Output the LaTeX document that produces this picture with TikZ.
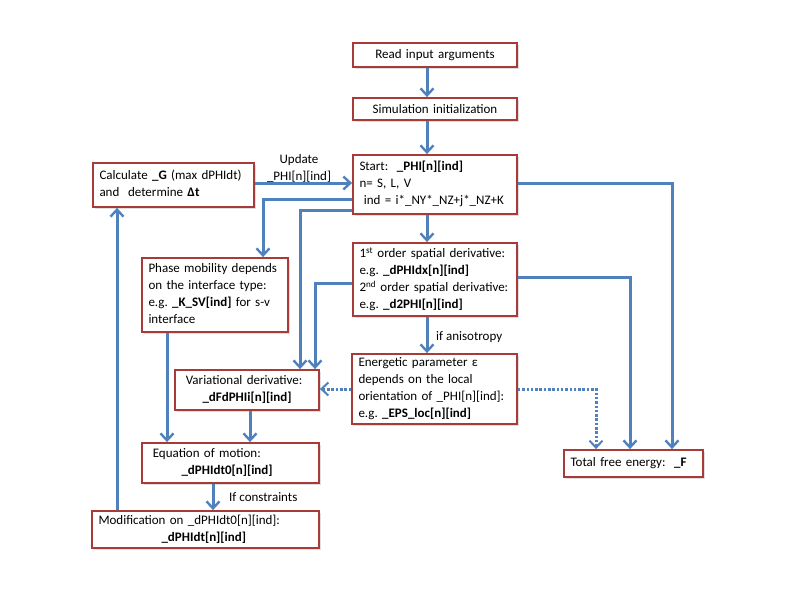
\documentclass[tikz,border=0pt]{standalone}
\usepackage{fontspec}
\setmainfont{Carlito}
\usetikzlibrary{arrows.meta,shadows}
\definecolor{boxred}{RGB}{168,58,56}
\definecolor{arrblue}{RGB}{79,129,189}
\newcommand{\fs}{\fontsize{13}{17}\selectfont\frenchspacing}
\newcommand{\tb}[1]{\begin{tabular}{@{}l@{}}#1\end{tabular}}
\begin{document}
\begin{tikzpicture}[x=1pt,y=-1pt,
  box/.style={draw=boxred, line width=1.8pt, fill=white, inner xsep=6.5pt, inner ysep=0pt,
    align=left, font=\fs, drop shadow={shadow xshift=1.5pt, shadow yshift=-1.5pt, opacity=0.25, fill=gray}},
  cbox/.style={box, align=center},
  conn/.style={draw=arrblue, line width=3pt, -{Straight Barb[length=7pt,width=13pt,line width=2.4pt]}},
  dconn/.style={conn, line width=3pt, dash pattern=on 2.5pt off 1.8pt, -{Straight Barb[length=7pt,width=13pt,line width=2pt]}},
  lbl/.style={font=\fs, align=center, inner sep=0pt}]
\useasboundingbox (0,0) rectangle (800,600);
% boxes
\node[cbox, minimum width=164, minimum height=24, text width=151] (read) at (435,55) {Read input arguments};
\node[cbox, minimum width=164, minimum height=22, text width=151] (sim) at (435,109) {Simulation initialization};
\node[box, minimum width=164, minimum height=59, text width=151] (start) at (435,184.5)
  {\tb{Start:\ \ \textbf{\_PHI[n][ind]}\\n= S, L, V\\\ ind = i*\_NY*\_NZ+j*\_NZ+K}};
\node[box, minimum width=161, minimum height=44, text width=148] (calc) at (173.5,185)
  {\tb{Calculate \textbf{\_G} (max dPHIdt)\\and\ \ determine \textbf{Δt}}};
\node[box, minimum width=146, minimum height=74, text width=133] (phase) at (215,295)
  {\tb{Phase mobility depends\\on the interface type:\\e.g. \textbf{\_K\_SV[ind]} for s-v\\interface}};
\node[box, minimum width=164, minimum height=73, text width=151] (first) at (435,279.5)
  {\tb{1\textsuperscript{st} order spatial derivative:\\e.g. \textbf{\_dPHIdx[n][ind]}\\2\textsuperscript{nd} order spatial derivative:\\e.g. \textbf{\_d2PHI[n][ind]}}};
\node[box, minimum width=165, minimum height=70, text width=152] (energ) at (434.5,389)
  {\tb{Energetic parameter ε\\depends on the local\\orientation of \_PHI[n][ind]:\\e.g. \textbf{\_EPS\_loc[n][ind]}}};
\node[box, minimum width=144, minimum height=40, text width=131] (var) at (247,390)
  {\tb{\ Variational derivative:\\\hspace*{21pt}\textbf{\_dFdPHIi[n][ind]}}};
\node[box, minimum width=177, minimum height=40, text width=164] (eq) at (230.5,463)
  {\tb{\ Equation of motion:\\\hspace*{33pt}\textbf{\_dPHIdt0[n][ind]}}};
\node[box, minimum width=227, minimum height=37, text width=214] (mod) at (205.5,529.5)
  {\tb{Modification on \_dPHIdt0[n][ind]:\\\hspace*{63pt}\textbf{\_dPHIdt[n][ind]}}};
\node[box, minimum width=139, minimum height=27, text width=126] (total) at (633.5,463.5)
  {\tb{Total free energy:\ \ \textbf{\_F}}};
% labels
\node[lbl] (lupd) at (299,168) {Update\\\_PHI[n][ind]};
\node[lbl, anchor=west] (laniso) at (436,337) {if anisotropy};
\node[lbl, anchor=west] (lcons) at (229,497) {If constraints};
% guide coordinates
\coordinate (xc) at (427,0);
\coordinate (xp) at (263,199);
\coordinate (xv1) at (300,210);
\coordinate (xv2) at (315,283);
\coordinate (xt1) at (672,183);
\coordinate (xt2) at (630,277);
\coordinate (xt3) at (596,389);
% connectors
\draw[conn] (read.south -| xc) -- (sim.north -| xc);
\draw[conn] (sim.south -| xc) -- (start.north -| xc);
\draw[conn] (start.south -| xc) -- (first.north -| xc);
\draw[conn] (first.south -| xc) -- (energ.north -| xc);
\draw[conn] (calc.east |- 0,183) -- (start.west |- 0,183);
\draw[conn] (start.west |- xp) -- (xp) -- (phase.north -| xp);
\draw[conn] (start.west |- xv1) -- (xv1) -- (var.north -| xv1);
\draw[conn] (first.west |- xv2) -- (xv2) -- (var.north -| xv2);
\draw[conn] (start.east |- xt1) -- (xt1) -- (total.north -| xt1);
\draw[conn] (first.east |- xt2) -- (xt2) -- (total.north -| xt2);
\draw[dconn] (energ.east |- xt3) -- (xt3) -- (total.north -| xt3);
\draw[dconn] (energ.west |- xt3) -- (var.east |- xt3);
\draw[conn] (phase.south -| 167,0) -- (eq.north -| 167,0);
\draw[conn] (var.south -| 250,0) -- (eq.north -| 250,0);
\draw[conn] (eq.south -| 213,0) -- (mod.north -| 213,0);
\draw[conn] (mod.north -| 117,0) -- (calc.south -| 117,0);
\end{tikzpicture}
\end{document}
